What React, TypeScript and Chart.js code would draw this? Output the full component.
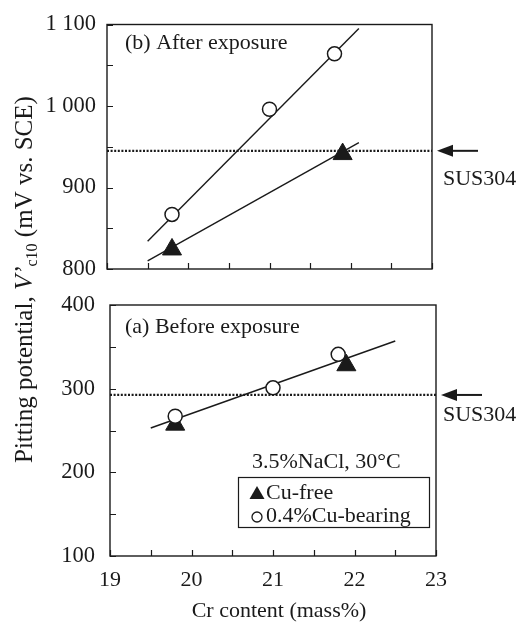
import { useEffect, useRef } from "react";
import { Chart, registerables } from "chart.js";

Chart.register(...registerables);

const FONT = '"Liberation Serif", "Times New Roman", serif';
const INK = "#1a1a1a";

// shared x axis (Cr content, mass%)
const X_MIN = 19;
const X_MAX = 23;
const X_STEP = 0.5;
const xTickValues = [19, 20, 21, 22, 23];
const xTickLabels = ["19", "20", "21", "22", "23"];

// (b) After exposure
const afterCrCuBearing = [19.8, 21.0, 21.8];
const afterCuBearing = [867, 996, 1064];
const afterCrCuFree = [19.8, 21.9];
const afterCuFree = [824, 941];
const afterFitCuBearingX = [19.5, 22.1];
const afterFitCuBearingY = [834, 1095];
const afterFitCuFreeX = [19.5, 22.1];
const afterFitCuFreeY = [810, 955];
const afterSUS304 = 945;
const afterYMin = 800;
const afterYMax = 1100;
const afterYTickValues = [800, 900, 1000, 1100];
const afterYTickLabels = ["800", "900", "1 000", "1 100"];

// (a) Before exposure
const beforeCrCuBearing = [19.8, 21.0, 21.8];
const beforeCuBearing = [267, 301, 341];
const beforeCrCuFree = [19.8, 21.9];
const beforeCuFree = [257, 328];
const beforeFitX = [19.5, 22.5];
const beforeFitY = [253, 357];
const beforeSUS304 = 292.5;
const beforeYMin = 100;
const beforeYMax = 400;
const beforeYTickValues = [100, 200, 300, 400];
const beforeYTickLabels = ["100", "200", "300", "400"];

const Y_STEP = 50;

const pts = (xs: number[], ys: number[]) => xs.map((x, i) => ({ x, y: ys[i] }));

type PanelCfg = {
  label: string;
  labelDx: number;
  labelDy: number;
  sus: number;
  susDx: number;
  susDy: number;
  bottom: boolean;
};

function makePlugin(cfg: PanelCfg) {
  return {
    id: "decor",
    afterDraw(chart: any) {
      const { ctx, chartArea: a, scales } = chart;
      const xs = scales.x;
      const ys = scales.y;
      ctx.save();
      ctx.strokeStyle = INK;
      ctx.fillStyle = INK;
      ctx.lineWidth = 1.4;
      ctx.strokeRect(a.left, a.top, a.right - a.left, a.bottom - a.top);
      ctx.lineWidth = 1.2;
      ctx.beginPath();
      ys.ticks.forEach((t: any) => {
        const py = Math.round(ys.getPixelForValue(t.value)) + 0.5;
        ctx.moveTo(a.left, py);
        ctx.lineTo(a.left + 6, py);
      });
      xs.ticks.forEach((t: any) => {
        const px = Math.round(xs.getPixelForValue(t.value)) + 0.5;
        ctx.moveTo(px, a.bottom);
        ctx.lineTo(px, a.bottom - 6);
      });
      ctx.stroke();

      // panel label
      ctx.font = `22px ${FONT}`;
      ctx.textAlign = "left";
      ctx.textBaseline = "middle";
      ctx.fillText(cfg.label, a.left + cfg.labelDx, a.top + cfg.labelDy);

      // SUS304 arrow
      const sy = ys.getPixelForValue(cfg.sus);
      const tip = a.right + 5;
      ctx.lineWidth = 2;
      ctx.beginPath();
      ctx.moveTo(tip + 12, sy);
      ctx.lineTo(tip + 41, sy);
      ctx.stroke();
      ctx.beginPath();
      ctx.moveTo(tip, sy);
      ctx.lineTo(tip + 16, sy - 6);
      ctx.lineTo(tip + 16, sy + 6);
      ctx.closePath();
      ctx.fill();
      ctx.textAlign = "left";
      ctx.fillText("SUS304", a.right + cfg.susDx, sy + cfg.susDy);

      if (cfg.bottom) {
        // condition text
        ctx.fillText("3.5%NaCl, 30°C", a.left + 142, a.top + 157);
        // legend box
        ctx.lineWidth = 1.2;
        ctx.strokeRect(a.left + 128.5, a.top + 172.5, 191, 50);
        // triangle marker
        const lx = a.left + 147;
        const ly1 = a.top + 188;
        ctx.beginPath();
        ctx.moveTo(lx, ly1 - 7);
        ctx.lineTo(lx + 7.5, ly1 + 6);
        ctx.lineTo(lx - 7.5, ly1 + 6);
        ctx.closePath();
        ctx.fill();
        ctx.fillText("Cu-free", a.left + 156, ly1);
        const ly2 = a.top + 211;
        ctx.beginPath();
        ctx.arc(lx, ly2 + 1, 5, 0, Math.PI * 2);
        ctx.lineWidth = 1.3;
        ctx.stroke();
        ctx.fillText("0.4%Cu-bearing", a.left + 156, ly2);

        // x title
        ctx.textAlign = "center";
        ctx.fillText("Cr content (mass%)", (a.left + a.right) / 2 + 6, a.bottom + 55);

        // y title (rotated, mixed styles)
        ctx.save();
        ctx.translate(32, 463);
        ctx.rotate(-Math.PI / 2);
        ctx.textAlign = "left";
        ctx.textBaseline = "alphabetic";
        let x = 0;
        const part = (s: string, font: string, dy = 0) => {
          ctx.font = font;
          ctx.fillText(s, x, dy);
          x += ctx.measureText(s).width;
        };
        part("Pitting potential, ", `25px ${FONT}`);
        part("V’", `italic 25px ${FONT}`);
        part("c10", `16px ${FONT}`, 5);
        part(" (mV vs. SCE)", `25px ${FONT}`);
        ctx.restore();
      }
      ctx.restore();
    },
  };
}

function makeConfig(opts: {
  cuBearing: { x: number; y: number }[];
  cuFree: { x: number; y: number }[];
  fits: { x: number; y: number }[][];
  sus: number;
  yMin: number;
  yMax: number;
  yTickValues: number[];
  yTickLabels: string[];
  yWidth: number;
  yPad: number;
  padding: any;
  xHeight: number;
  showX: boolean;
  plugin: any;
}) {
  const datasets: any[] = [
    {
      label: "0.4%Cu-bearing",
      data: opts.cuBearing,
      pointStyle: "circle",
      pointRadius: 7,
      pointBackgroundColor: "#ffffff",
      pointBorderColor: INK,
      pointBorderWidth: 1.5,
      showLine: false,
      order: 0,
    },
    {
      label: "Cu-free",
      data: opts.cuFree,
      pointStyle: "triangle",
      pointRadius: 11,
      pointBackgroundColor: INK,
      pointBorderColor: INK,
      pointBorderWidth: 1,
      showLine: false,
      order: 1,
    },
    ...opts.fits.map((f) => ({
      label: "fit",
      data: f,
      showLine: true,
      pointRadius: 0,
      borderColor: INK,
      borderWidth: 1.4,
      order: 2,
    })),
    {
      label: "SUS304",
      data: [
        { x: X_MIN, y: opts.sus },
        { x: X_MAX, y: opts.sus },
      ],
      showLine: true,
      pointRadius: 0,
      borderColor: INK,
      borderWidth: 2.2,
      borderDash: [2, 1.6],
      order: 3,
    },
  ];
  return {
    type: "scatter" as const,
    data: { datasets },
    options: {
      responsive: false,
      animation: false as const,
      events: [],
      layout: { padding: opts.padding },
      plugins: { legend: { display: false }, tooltip: { enabled: false } },
      scales: {
        x: {
          type: "linear" as const,
          min: X_MIN,
          max: X_MAX,
          grid: { display: false, drawTicks: false },
          border: { display: false },
          ticks: {
            display: opts.showX,
            stepSize: X_STEP,
            autoSkip: false,
            maxRotation: 0,
            padding: 11,
            color: INK,
            font: { family: FONT, size: 22 },
            callback: (v: any) => {
              const i = xTickValues.indexOf(Number(v));
              return i >= 0 ? xTickLabels[i] : "";
            },
          },
          afterFit: (s: any) => {
            s.height = opts.xHeight;
          },
        },
        y: {
          type: "linear" as const,
          min: opts.yMin,
          max: opts.yMax,
          grid: { display: false, drawTicks: false },
          border: { display: false },
          ticks: {
            stepSize: Y_STEP,
            autoSkip: false,
            padding: opts.yPad,
            color: INK,
            font: { family: FONT, size: 22.5 },
            callback: (v: any) => {
              const i = opts.yTickValues.indexOf(Number(v));
              return i >= 0 ? opts.yTickLabels[i] : "";
            },
          },
          afterFit: (s: any) => {
            s.width = opts.yWidth;
          },
        },
      },
    },
    plugins: [opts.plugin],
  };
}

export default function App() {
  const topRef = useRef<HTMLCanvasElement>(null);
  const botRef = useRef<HTMLCanvasElement>(null);

  useEffect(() => {
    const top = new Chart(
      topRef.current!,
      makeConfig({
        cuBearing: pts(afterCrCuBearing, afterCuBearing),
        cuFree: pts(afterCrCuFree, afterCuFree),
        fits: [pts(afterFitCuBearingX, afterFitCuBearingY), pts(afterFitCuFreeX, afterFitCuFreeY)],
        sus: afterSUS304,
        yMin: afterYMin,
        yMax: afterYMax,
        yTickValues: afterYTickValues,
        yTickLabels: afterYTickLabels,
        yWidth: 107,
        yPad: 11,
        padding: { left: 0, top: 20, right: 87, bottom: 357 },
        xHeight: 0,
        showX: false,
        plugin: makePlugin({
          label: "(b) After exposure",
          labelDx: 18,
          labelDy: 19,
          sus: afterSUS304,
          susDx: 11,
          susDy: 28,
          bottom: false,
        }),
      }) as any
    );
    const bot = new Chart(
      botRef.current!,
      makeConfig({
        cuBearing: pts(beforeCrCuBearing, beforeCuBearing),
        cuFree: pts(beforeCrCuFree, beforeCuFree),
        fits: [pts(beforeFitX, beforeFitY)],
        sus: beforeSUS304,
        yMin: beforeYMin,
        yMax: beforeYMax,
        yTickValues: beforeYTickValues,
        yTickLabels: beforeYTickLabels,
        yWidth: 110,
        yPad: 15,
        padding: { left: 0, top: 305, right: 83, bottom: 0 },
        xHeight: 70,
        showX: true,
        plugin: makePlugin({
          label: "(a) Before exposure",
          labelDx: 15,
          labelDy: 22,
          sus: beforeSUS304,
          susDx: 7,
          susDy: 20,
          bottom: true,
        }),
      }) as any
    );
    return () => {
      top.destroy();
      bot.destroy();
    };
  }, []);

  return (
    <div style={{ position: "absolute", left: 0, top: 0, width: 519, height: 626, background: "#ffffff" }}>
      <canvas ref={topRef} width={519} height={626} style={{ position: "absolute", left: 0, top: 0 }} />
      <canvas ref={botRef} width={519} height={626} style={{ position: "absolute", left: 0, top: 0 }} />
    </div>
  );
}
